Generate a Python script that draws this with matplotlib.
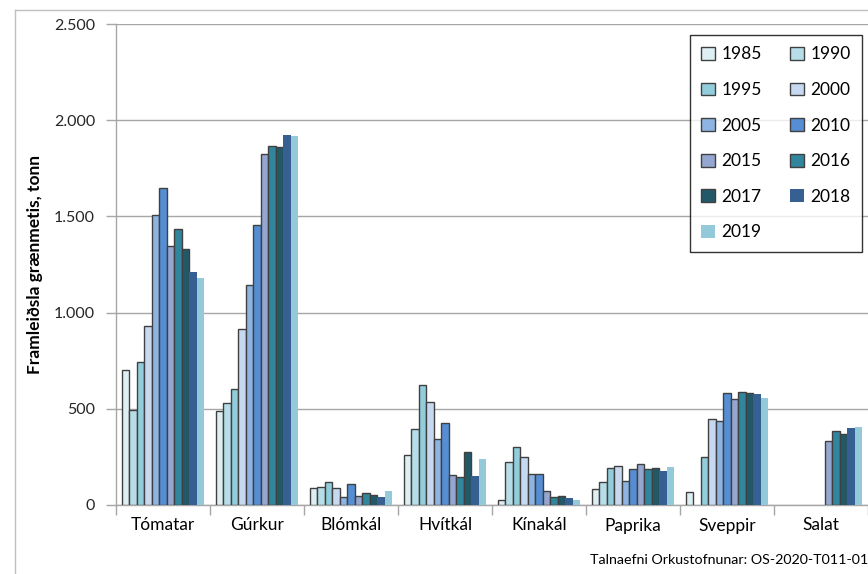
import matplotlib.pyplot as plt
import numpy as np
from matplotlib.lines import Line2D

plt.rcParams['font.family'] = ['Lato', 'DejaVu Sans']

# Flokkar og ár
flokkar = ['Tómatar', 'Gúrkur', 'Blómkál', 'Hvítkál', 'Kínakál', 'Paprika', 'Sveppir', 'Salat']
ar = ['1985', '1990', '1995', '2000', '2005', '2010', '2015', '2016', '2017', '2018', '2019']

# Framleiðsla í tonnum, ein röð fyrir hvert ár (nan = vantar)
v1985 = [700, 490, 90, 258, 26, 85, 69, np.nan]
v1990 = [495, 532, 94, 395, 223, 118, np.nan, np.nan]
v1995 = [745, 601, 118, 624, 300, 194, 251, np.nan]
v2000 = [930, 915, 87, 535, 251, 203, 445, np.nan]
v2005 = [1507, 1143, 43, 345, 160, 125, 437, np.nan]
v2010 = [1649, 1455, 111, 425, 163, 185, 580, np.nan]
v2015 = [1346, 1824, 48, 156, 74, 213, 549, 334]
v2016 = [1434, 1866, 61, 144, 42, 189, 586, 385]
v2017 = [1330, 1859, 54, 274, 48, 191, 580, 369]
v2018 = [1209, 1923, 43, 149, 36, 177, 579, 399]
v2019 = [1181, 1920, 73, 241, 26, 198, 556, 405]
gildi = [v1985, v1990, v1995, v2000, v2005, v2010, v2015, v2016, v2017, v2018, v2019]

litir = ['#DDEFF3', '#B7DEE8', '#92CDDC', '#C6D9F1', '#8DB4E2', '#558ED5',
         '#95A7D0', '#31859C', '#215968', '#366092', '#93C9D9']
kantar = ['#404040'] * 9 + ['none', 'none']

fig = plt.figure(figsize=(8.68, 5.74), dpi=100)
ax = fig.add_axes([116 / 868, 69 / 574, 752 / 868, 481 / 574])

n = len(ar)
breidd = 1 / (n + 1.5)
x = np.arange(len(flokkar))
handles = []
for i in range(n):
    pos = x + 0.5 - n * breidd / 2 + (i + 0.5) * breidd
    b = ax.bar(pos, gildi[i], width=breidd, color=litir[i], edgecolor=kantar[i],
               linewidth=1.0, label=ar[i], zorder=3)
    handles.append(b)

ax.set_xlim(0, len(flokkar))
ax.set_ylim(0, 2500)
ax.set_yticks([0, 500, 1000, 1500, 2000, 2500])
ax.set_yticklabels(['0', '500', '1.000', '1.500', '2.000', '2.500'])
ax.set_xticks(np.arange(len(flokkar) + 1))
ax.set_xticklabels([])
ax.set_xticks(x + 0.5, minor=True)
ax.set_xticklabels(flokkar, minor=True)
ax.tick_params(axis='x', which='minor', length=0, pad=9, labelsize=12.5, labelcolor='black')
ax.tick_params(axis='x', which='major', length=7, color='#A6A6A6', width=1)
ax.tick_params(axis='y', length=7, color='#A6A6A6', width=1, labelsize=11.5,
               labelcolor='#262626', pad=8)

ax.grid(axis='y', color='#A6A6A6', linewidth=1, zorder=0)
for s in ['top', 'right']:
    ax.spines[s].set_visible(False)
for s in ['left', 'bottom']:
    ax.spines[s].set_color('#A6A6A6')
    ax.spines[s].set_linewidth(1)

ax.set_ylabel('Framleiðsla grænmetis, tonn', fontsize=12.5, fontweight='bold', labelpad=8)

rod = [0, 2, 4, 6, 8, 10, 1, 3, 5, 7, 9]
leg = ax.legend([handles[i] for i in rod], [ar[i] for i in rod], ncol=2,
                loc='upper right', bbox_to_anchor=(0.992, 0.977), borderaxespad=0,
                fontsize=12.5, frameon=True, fancybox=False, edgecolor='black',
                handlelength=0.75, handleheight=0.75, handletextpad=0.4,
                labelspacing=1.13, columnspacing=1.65, borderpad=0.65)
leg.get_frame().set_linewidth(1)

# Rammi utan um myndina
fig.add_artist(Line2D([15 / 868, 15 / 868], [0, 1 - 10 / 574], color='#BFBFBF', lw=1))
fig.add_artist(Line2D([15 / 868, 1], [1 - 10 / 574, 1 - 10 / 574], color='#BFBFBF', lw=1))

fig.text(1.0, 14 / 574, 'Talnaefni Orkustofnunar: OS-2020-T011-01', ha='right', va='center',
         fontsize=10.3, color='black')

fig.savefig('out.png', dpi=100)
